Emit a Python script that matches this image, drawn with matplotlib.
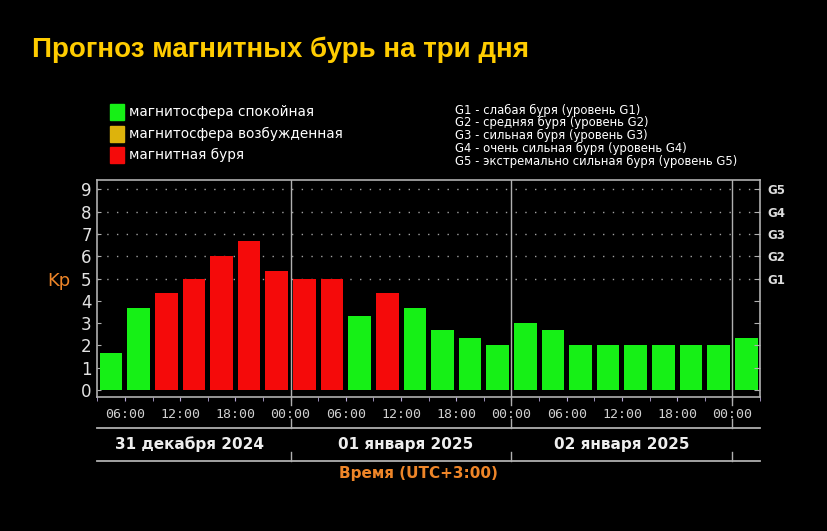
import matplotlib.pyplot as plt
from matplotlib.patches import Rectangle
from matplotlib.transforms import blended_transform_factory

# Kp по трёхчасовым интервалам: 31.12.2024 03:00 ... 03.01.2025 03:00 (UTC+3)
kp_values = [1.67, 3.67, 4.33, 5.0, 6.0, 6.67, 5.33,
             5.0, 5.0, 3.33, 4.33, 3.67, 2.67, 2.33, 2.0,
             3.0, 2.67, 2.0, 2.0, 2.0, 2.0, 2.0, 2.0,
             2.33]
start_hour = 3          # первый интервал начинается в 03:00 31 декабря
step_hours = 3
hour_ticks = [6, 12, 18, 24, 30, 36, 42, 48, 54, 60, 66, 72]
hour_labels = ['06:00', '12:00', '18:00', '00:00'] * 3
day_bounds = [24, 48, 72]
day_labels = ['31 декабря 2024', '01 января 2025', '02 января 2025']
day_centers = [13, 36.5, 60]
g_levels = [5, 6, 7, 8, 9]
g_names = ['G1', 'G2', 'G3', 'G4', 'G5']
legend_names = ['магнитосфера спокойная', 'магнитосфера возбужденная', 'магнитная буря']
g_descr = ['G1 - слабая буря (уровень G1)',
           'G2 - средняя буря (уровень G2)',
           'G3 - сильная буря (уровень G3)',
           'G4 - очень сильная буря (уровень G4)',
           'G5 - экстремально сильная буря (уровень G5)']

GREEN = '#16F016'
YELLOW = '#DDB30C'
RED = '#F50A0A'
ORANGE = '#EE8528'
GRAY = '#B0B0B0'

W, H = 828, 531
fig = plt.figure(figsize=(W / 100, H / 100), dpi=100, facecolor='black')


def fx(px):
    return px / W


def fy(py):
    return 1 - py / H


ax = fig.add_axes([fx(97.3), fy(396.7), fx(760 - 97.3), (396.7 - 180) / H])
ax.set_facecolor('black')

n = len(kp_values)
x_mid = [start_hour + step_hours * (i + 0.5) for i in range(n)]
colors = [RED if v > 4 else GREEN for v in kp_values]

# точечная сетка только для уровней бурь
for lvl in g_levels:
    ax.axhline(lvl, color='#a0a0a0', linestyle=(0, (1, 6)), linewidth=1, zorder=1)

ax.bar(x_mid, kp_values, width=2.46, color=colors, zorder=2)

for d in day_bounds:
    ax.axvline(d, color=GRAY, linewidth=1, zorder=3)

ax.set_xlim(start_hour, start_hour + step_hours * n)
ax.set_ylim(-0.3, 9.42)

for s in ax.spines.values():
    s.set_color(GRAY)
    s.set_linewidth(1.2)

ax.set_yticks(range(10))
ax.tick_params(axis='y', direction='in', length=3, color=GRAY,
               labelsize=12, labelcolor='#e2e2e2', pad=4)
ax.set_xticks(hour_ticks)
ax.set_xticklabels(hour_labels, family='DejaVu Sans Mono')
ax.set_xticks([start_hour + step_hours * i for i in range(n + 1)], minor=True)
ax.tick_params(axis='x', which='both', direction='out', length=3, color='#b8a8d8',
               labelsize=9.5, labelcolor='#d0d0d0', pad=5)

rax = ax.twinx()
rax.set_ylim(ax.get_ylim())
rax.set_yticks(range(10))
rax.set_yticklabels(['' if i not in g_levels else g_names[g_levels.index(i)] for i in range(10)],
                    fontweight='bold', family='DejaVu Sans')
rax.tick_params(axis='y', direction='in', length=4, color=GRAY,
                labelsize=8.5, labelcolor='#dcdcdc', pad=5)
for s in rax.spines.values():
    s.set_visible(False)

# нижняя часть: линии и подписи дат
tr = blended_transform_factory(ax.transData, fig.transFigure)
x0, x1 = ax.get_xlim()
for yy in (428, 461):
    fig.add_artist(plt.Line2D([x0, x1], [fy(yy), fy(yy)], transform=tr, color=GRAY, linewidth=1.3))
for d in day_bounds:
    fig.add_artist(plt.Line2D([d, d], [fy(397), fy(405)], transform=tr, color=GRAY, linewidth=1))
    fig.add_artist(plt.Line2D([d, d], [fy(419), fy(428)], transform=tr, color=GRAY, linewidth=1))
    fig.add_artist(plt.Line2D([d, d], [fy(452), fy(461)], transform=tr, color=GRAY, linewidth=1))
for c, lab in zip(day_centers, day_labels):
    fig.text(c, fy(449), lab, transform=tr, ha='center', va='baseline',
             fontsize=11, fontweight='bold', color='#eeeeee')

fig.text(fx(418), fy(478), 'Время (UTC+3:00)', ha='center', va='baseline',
         fontsize=11, fontweight='bold', color=ORANGE)
fig.text(fx(47), fy(286), 'Kp', ha='left', va='baseline', fontsize=13, color=ORANGE)

fig.text(fx(32), fy(57), 'Прогноз магнитных бурь на три дня', ha='left', va='baseline',
         fontsize=20, fontweight='bold', family='Liberation Sans', color='#FFCC00')

# легенда
for i, (col, lab) in enumerate(zip([GREEN, YELLOW, RED], legend_names)):
    yc = 112 + 21.5 * i
    fig.add_artist(Rectangle((fx(110), fy(yc + 8)), fx(14), 16 / H,
                             transform=fig.transFigure, color=col))
    fig.text(fx(129), fy(yc), lab, ha='left', va='center', fontsize=9.8, color='white')

for i, t in enumerate(g_descr):
    fig.text(fx(455), fy(110 + 12.75 * i), t, ha='left', va='center', fontsize=8.4, color='white')

plt.savefig('out.png', dpi=100, facecolor='black')
